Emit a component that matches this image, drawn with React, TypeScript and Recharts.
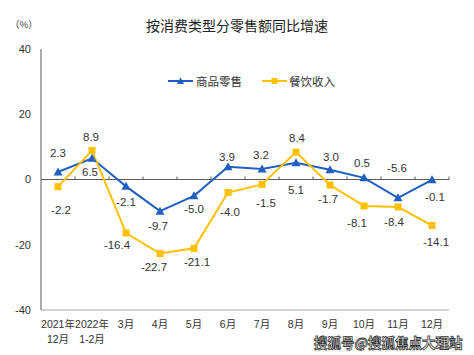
import React from 'react';
import {
  LabelList,
  Line,
  LineChart,
  ReferenceLine,
  XAxis,
  YAxis,
} from 'recharts';

const months = [
  '2021年\n12月',
  '2022年\n1-2月',
  '3月',
  '4月',
  '5月',
  '6月',
  '7月',
  '8月',
  '9月',
  '10月',
  '11月',
  '12月',
];
const retail = [2.3, 6.5, -2.1, -9.7, -5.0, 3.9, 3.2, 5.1, 3.0, 0.5, -5.6, -0.1];
const catering = [-2.2, 8.9, -16.4, -22.7, -21.1, -4.0, -1.5, 8.4, -1.7, -8.1, -8.4, -14.1];
const yTicks = [-40, -20, 0, 20, 40];

// label nudges (px)
const retailDy = [-19, 14, 16, 15, 13, -10, -14, 27, -13, -15, -30, 17];
const retailDx = [0, -2, 0, -2, 0, -1, -1, 0, 1, -2, -1, 3];
const cateringDy = [23, -13, 12, 13, 14, 19, 19, -14, 14, 17, 15, 16];
const cateringDx = [3, -1, -9, -6, 3, 2, 4, 1, -2, -7, -4, 4];

const BLUE = '#1f5fbf';
const GOLD = '#ffc000';
const FONT = '"Liberation Sans", Arial, "Noto Sans CJK SC", sans-serif';

const data = months.map((m, i) => ({
  month: m,
  retail: retail[i],
  catering: catering[i],
}));

const makeLabel = (dxs: number[], dys: number[]) => (props: any) => {
  const { x, y, value, index } = props;
  return (
    <text
      x={x + dxs[index]}
      y={y + dys[index]}
      textAnchor="middle"
      dominantBaseline="central"
      fontSize={11.5}
      fill="#333"
      fontFamily={FONT}
    >
      {Number(value).toFixed(1)}
    </text>
  );
};

const MonthTick = (props: any) => {
  const { x, y, payload } = props;
  const lines = String(payload.value).split('\n');
  return (
    <text x={x} y={y} textAnchor="middle" fontSize={10.5} fill="#333" fontFamily={FONT}>
      {lines.map((l, i) => (
        <tspan key={i} x={x} dy={i === 0 ? 10 : 15}>
          {l}
        </tspan>
      ))}
    </text>
  );
};

const ZeroLine = (props: any) => {
  const { x1, y1, x2, y2 } = props;
  const step = (x2 - x1) / months.length;
  return (
    <g>
      <line x1={x1} y1={y1} x2={x2} y2={y2} stroke="#595959" strokeWidth={1} />
      {months.map((_, i) => (
        <line
          key={i}
          x1={x1 + step * (i + 1)}
          x2={x1 + step * (i + 1)}
          y1={y1}
          y2={y1 - 3}
          stroke="#595959"
          strokeWidth={1}
        />
      ))}
    </g>
  );
};

const LegendBox = () => (
  <div style={{ display: 'flex', alignItems: 'center', fontFamily: FONT, fontSize: 11.5, color: '#333' }}>
    <svg width={26} height={10}>
      <line x1={0} x2={25} y1={5} y2={5} stroke={BLUE} strokeWidth={2} />
      <polygon points="12.5,1.5 16,8 9,8" fill={BLUE} />
    </svg>
    <span style={{ marginLeft: 2 }}>商品零售</span>
    <svg width={26} height={10} style={{ marginLeft: 20 }}>
      <line x1={0} x2={25} y1={5} y2={5} stroke={GOLD} strokeWidth={2} />
      <rect x={9.5} y={2} width={6} height={6} fill={GOLD} />
    </svg>
    <span style={{ marginLeft: 1 }}>餐饮收入</span>
  </div>
);

const Triangle = (props: any) => {
  const { cx, cy } = props;
  if (cx == null || cy == null) return null;
  return <polygon points={`${cx},${cy - 4.5} ${cx + 4.5},${cy + 3.5} ${cx - 4.5},${cy + 3.5}`} fill={BLUE} />;
};

const Square = (props: any) => {
  const { cx, cy } = props;
  if (cx == null || cy == null) return null;
  return <rect x={cx - 3.5} y={cy - 3.5} width={7} height={7} fill={GOLD} />;
};

export default function App() {
  return (
    <div style={{ position: 'absolute', left: 0, top: 0, width: 474, height: 355, background: '#fff', overflow: 'hidden' }}>
      <div
        style={{
          position: 'absolute',
          left: 0,
          width: 474,
          top: 15,
          textAlign: 'center',
          fontFamily: '"Noto Sans CJK SC", sans-serif',
          fontSize: 14,
          color: '#222',
        }}
      >
        按消费类型分零售额同比增速
      </div>
      <div
        style={{
          position: 'absolute',
          left: 10,
          top: 17,
          fontFamily: '"Noto Sans CJK SC", sans-serif',
          fontSize: 9.5,
          color: '#444',
        }}
      >
        （%）
      </div>
      <LineChart width={474} height={355} data={data} margin={{ top: 49, right: 25, bottom: 0, left: 0 }}>
        <XAxis
          dataKey="month"
          scale="band"
          height={45}
          interval={0}
          axisLine={{ stroke: '#a6a6a6' }}
          tickLine={false}
          tick={<MonthTick />}
        />
        <XAxis
          xAxisId="top"
          orientation="top"
          dataKey="month"
          scale="band"
          height={0}
          tick={false}
          tickLine={false}
          axisLine={{ stroke: '#c8c8c8' }}
        />
        <YAxis
          domain={[-40, 40]}
          ticks={yTicks}
          width={41}
          axisLine={{ stroke: '#595959' }}
          tickLine={false}
          tickSize={6}
          tickMargin={4}
          tick={{ fontSize: 11, fill: '#333', fontFamily: FONT }}
        />
        <YAxis yAxisId="right" orientation="right" domain={[-40, 40]} width={0} tick={false} tickLine={false} axisLine={{ stroke: '#c8c8c8' }} />
        <ReferenceLine y={0} shape={<ZeroLine />} />
        <Line
          dataKey="retail"
          stroke={BLUE}
          strokeWidth={2}
          dot={<Triangle />}
          activeDot={false}
          isAnimationActive={false}
        >
          <LabelList dataKey="retail" content={makeLabel(retailDx, retailDy)} />
        </Line>
        <Line
          dataKey="catering"
          stroke={GOLD}
          strokeWidth={2}
          dot={<Square />}
          activeDot={false}
          isAnimationActive={false}
        >
          <LabelList dataKey="catering" content={makeLabel(cateringDx, cateringDy)} />
        </Line>
      </LineChart>
      <div style={{ position: 'absolute', top: 73, left: 168 }}>
        <LegendBox />
      </div>
      <div
        style={{
          position: 'absolute',
          left: 314,
          top: 333,
          whiteSpace: 'nowrap',
          fontFamily: '"Noto Sans CJK SC", sans-serif',
          fontSize: 13.5,
          lineHeight: '18px',
          fontWeight: 700,
          color: '#fff',
          WebkitTextStroke: '0.8px #333',
        }}
      >
        搜狐号@搜狐焦点大理站
      </div>
    </div>
  );
}
